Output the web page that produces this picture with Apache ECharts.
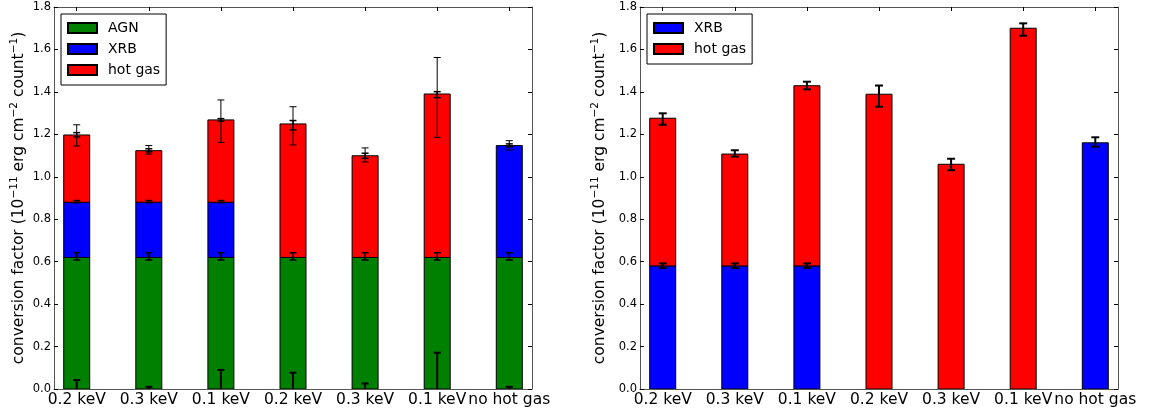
<!DOCTYPE html>
<html>
<head>
<meta charset="utf-8">
<script src="https://cdn.jsdelivr.net/npm/echarts@6/dist/echarts.min.js"></script>
<style>
html,body{margin:0;padding:0;background:#fff;}
#chart{width:1152px;height:415px;}
</style>
</head>
<body>
<div id="chart"></div>
<script>
// ---------------- data ----------------
const categories = ['0.2 keV', '0.3 keV', '0.1 keV', '0.2 keV', '0.3 keV', '0.1 keV', 'no hot gas'];
const yTicks = [0, 0.2, 0.4, 0.6, 0.8, 1.0, 1.2, 1.4, 1.6, 1.8];

// left panel: stacked component heights
const leftAGN    = [0.62, 0.62, 0.62, 0.62, 0.62, 0.62, 0.62];
const leftXRB    = [0.26, 0.26, 0.26, 0, 0, 0, 0.527];
const leftHotGas = [0.317, 0.243, 0.388, 0.629, 0.479, 0.77, 0];

// left panel error bars: centre and half-length
const leftErrBaseC   = [0, 0, 0, 0, 0, 0, 0];
const leftErrBaseE   = [0.042, 0.01, 0.09, 0.077, 0.026, 0.171, 0.01];
const leftErrAGNC    = [0.625, 0.625, 0.625, 0.625, 0.625, 0.625, 0.625];
const leftErrAGNE    = [0.017, 0.017, 0.017, 0.017, 0.017, 0.017, 0.017];
const leftErrXRBC    = [0.883, 0.883, 0.883, null, null, null, 1.148];
const leftErrXRBE    = [0.005, 0.005, 0.005, null, null, null, 0.007];
const leftErrOuterC  = [1.195, 1.127, 1.262, 1.240, 1.103, 1.374, 1.148];
const leftErrOuterE  = [0.050, 0.020, 0.100, 0.090, 0.033, 0.188, 0.022];
const leftErrInnerC  = [1.198, 1.125, 1.268, 1.243, 1.099, 1.387, null];
const leftErrInnerE  = [0.010, 0.007, 0.006, 0.022, 0.012, 0.014, null];

// right panel: stacked component heights
const rightXRB    = [0.58, 0.58, 0.58, 0, 0, 0, 1.16];
const rightHotGas = [0.696, 0.527, 0.849, 1.389, 1.059, 1.70, 0];

// right panel error bars
const rightErrXRBC = [0.581, 0.581, 0.581, null, null, null, 1.164];
const rightErrXRBE = [0.011, 0.011, 0.011, null, null, null, 0.022];
const rightErrHotC = [1.272, 1.110, 1.430, 1.380, 1.058, 1.694, null];
const rightErrHotE = [0.027, 0.015, 0.018, 0.050, 0.027, 0.029, null];

// ---------------- styling ----------------
const FONT = 'DejaVu Sans';
const C_AGN = '#008000', C_XRB = '#0000ff', C_HOT = '#ff0000';
const SPINE = '#555';
const BAR_W = 26;

// stacked segments: [index, bottom, top]
function stackSegments(layers) {
  const base = categories.map(() => 0);
  return layers.map(vals => vals.map((v, i) => {
    const lo = base[i];
    base[i] += v;
    return [i, lo, base[i]];
  }).filter(d => d[2] > d[1]));
}
function errPairs(c, e) {
  const out = [];
  c.forEach((v, i) => { if (v !== null && e[i] !== null) out.push([i, v, e[i]]); });
  return out;
}

function xAxes(gridIndex) {
  const idx = categories.map((_, i) => i);
  return [
    {
      type: 'value', gridIndex, position: 'bottom', min: -0.315, max: 6.315,
      splitLine: { show: false },
      axisLine: { onZero: false, lineStyle: { color: SPINE, width: 1 } },
      axisTick: { inside: true, length: 4, customValues: idx, lineStyle: { color: '#000' } },
      axisLabel: {
        customValues: idx, margin: 3, color: '#000', fontFamily: FONT, fontSize: 15.5,
        formatter: v => categories[Math.round(v)]
      }
    },
    {
      type: 'value', gridIndex, position: 'top', min: -0.315, max: 6.315,
      splitLine: { show: false },
      axisLine: { onZero: false, lineStyle: { color: SPINE, width: 1 } },
      axisTick: { inside: true, length: 4, customValues: idx, lineStyle: { color: '#000' } },
      axisLabel: { show: false }
    }
  ];
}

const yTitle = 'conversion factor (10{sup|−11} erg cm{sup|−2} count{sup|−1})';

function yAxes(gridIndex, gap) {
  return [
    {
      type: 'value', gridIndex, position: 'left', min: 0, max: 1.8, interval: 0.2,
      splitLine: { show: false },
      axisLine: { show: true, onZero: false, lineStyle: { color: SPINE, width: 1 } },
      axisTick: { show: true, inside: true, length: 4, lineStyle: { color: '#000' } },
      axisLabel: { margin: 3, color: '#000', fontFamily: FONT, fontSize: 11.5, formatter: v => v.toFixed(1) },
      name: yTitle, nameLocation: 'middle', nameRotate: 90, nameGap: gap,
      nameTextStyle: {
        color: '#000', fontFamily: FONT, fontSize: 15.5, lineHeight: 20,
        rich: { sup: { fontFamily: FONT, fontSize: 10.5, lineHeight: 12, verticalAlign: 'top', color: '#000' } }
      }
    },
    {
      type: 'value', gridIndex, position: 'right', min: 0, max: 1.8, interval: 0.2,
      splitLine: { show: false },
      axisLine: { show: true, onZero: false, lineStyle: { color: SPINE, width: 1 } },
      axisTick: { show: true, inside: true, length: 4, lineStyle: { color: '#000' } },
      axisLabel: { show: false }
    }
  ];
}

function barSeries(name, segs, color, xi, yi) {
  return {
    type: 'custom', name, data: segs, xAxisIndex: xi, yAxisIndex: yi, clip: true,
    itemStyle: { color, borderColor: '#000', borderWidth: 1 },
    silent: true, animation: false, z: 2,
    renderItem: function (params, api) {
      const x = api.value(0), lo = api.value(1), hi = api.value(2);
      const pt = api.coord([x, hi]);
      const pb = api.coord([x, lo]);
      return {
        type: 'rect',
        shape: { x: pt[0] - BAR_W / 2, y: pt[1], width: BAR_W, height: pb[1] - pt[1] },
        style: { fill: color, stroke: '#000', lineWidth: 1 }
      };
    }
  };
}

function errSeries(c, e, xi, yi, lw, capW) {
  return {
    type: 'custom', xAxisIndex: xi, yAxisIndex: yi, data: errPairs(c, e), clip: true,
    silent: true, animation: false, z: 10,
    renderItem: function (params, api) {
      const x = api.value(0), m = api.value(1), d = api.value(2);
      const top = api.coord([x, m + d]);
      const bot = api.coord([x, m - d]);
      const hw = capW / 2;
      const st = { stroke: '#000', lineWidth: lw };
      return {
        type: 'group',
        children: [
          { type: 'line', shape: { x1: top[0], y1: top[1], x2: bot[0], y2: bot[1] }, style: st },
          { type: 'line', shape: { x1: top[0] - hw, y1: top[1], x2: top[0] + hw, y2: top[1] }, style: st },
          { type: 'line', shape: { x1: bot[0] - hw, y1: bot[1], x2: bot[0] + hw, y2: bot[1] }, style: st }
        ]
      };
    }
  };
}

const legendCommon = {
  orient: 'vertical', icon: 'rect', itemWidth: 29, itemHeight: 10, itemGap: 5,
  borderColor: '#000', borderWidth: 1, borderRadius: 0, backgroundColor: '#fff',
  selectedMode: false,
  textStyle: { color: '#000', fontFamily: FONT, fontSize: 14, lineHeight: 16, padding: [0, 0, 0, 6] }
};

const leftSegs = stackSegments([leftAGN, leftXRB, leftHotGas]);
const rightSegs = stackSegments([rightXRB, rightHotGas]);

const option = {
  animation: false,
  backgroundColor: '#fff',
  grid: [
    { left: 54, width: 478, top: 7, height: 382 },
    { left: 640, width: 478, top: 7, height: 382 }
  ],
  xAxis: [...xAxes(0), ...xAxes(1)],
  yAxis: [...yAxes(0, 25), ...yAxes(1, 30)],
  legend: [
    Object.assign({}, legendCommon, { left: 61, top: 14, padding: [6, 6, 7, 6], data: ['AGN', 'XRB', 'hot gas'] }),
    Object.assign({}, legendCommon, { left: 647, top: 14, padding: [6, 6, 7, 6], data: ['XRB', 'hot gas'] })
  ],
  series: [
    barSeries('AGN', leftSegs[0], C_AGN, 0, 0),
    barSeries('XRB', leftSegs[1], C_XRB, 0, 0),
    barSeries('hot gas', leftSegs[2], C_HOT, 0, 0),
    errSeries(leftErrBaseC, leftErrBaseE, 0, 0, 2, 7),
    errSeries(leftErrAGNC, leftErrAGNE, 0, 0, 1.5, 7),
    errSeries(leftErrXRBC, leftErrXRBE, 0, 0, 1.5, 7),
    errSeries(leftErrOuterC, leftErrOuterE, 0, 0, 1, 7),
    errSeries(leftErrInnerC, leftErrInnerE, 0, 0, 1.5, 7),
    barSeries('XRB', rightSegs[0], C_XRB, 2, 2),
    barSeries('hot gas', rightSegs[1], C_HOT, 2, 2),
    errSeries(rightErrXRBC, rightErrXRBE, 2, 2, 2, 8),
    errSeries(rightErrHotC, rightErrHotE, 2, 2, 2, 8)
  ]
};

const chart = echarts.init(document.getElementById('chart'), null, { renderer: 'canvas' });
chart.setOption(option);
</script>
</body>
</html>
